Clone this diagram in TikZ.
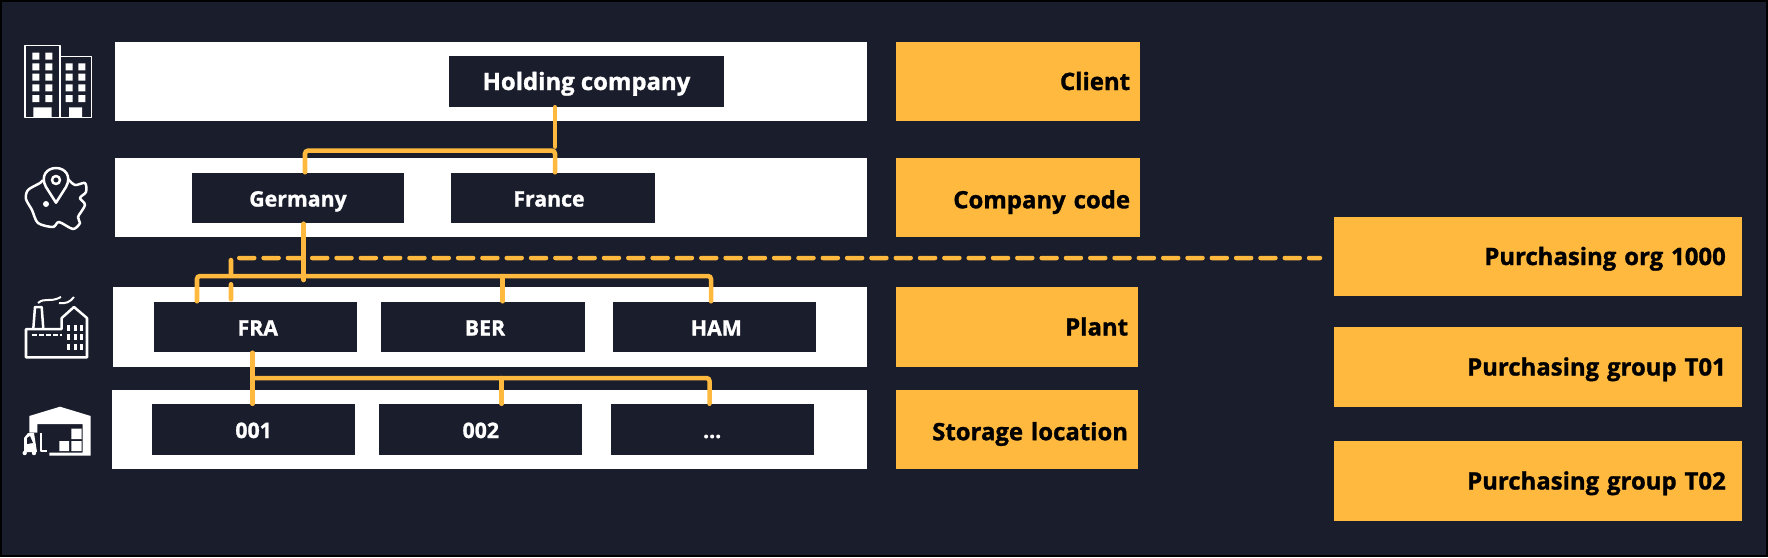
\documentclass[tikz,border=0pt]{standalone}
\usepackage{fontspec}
\setmainfont{Open Sans}[BoldFeatures={FakeBold=1.2}]
\definecolor{fond}{HTML}{1A1D2B}
\definecolor{ambre}{HTML}{FFB93F}
\tikzset{
  bande/.style={fill=white,draw=none,inner sep=0pt,minimum height=.79cm},
  unite/.style={fill=fond,text=white,inner sep=0pt,minimum width=2.03cm,minimum height=.5cm,
    text height=.22cm,text depth=.05cm,font=\fontsize{6.05}{7}\selectfont\bfseries},
  niveau/.style={fill=ambre,text=black,inner sep=0pt,minimum height=.79cm,
    text height=.22cm,text depth=.05cm,align=right,font=\fontsize{6.8}{8}\selectfont\bfseries},
  lien/.style={color=ambre,line width=.045cm,line cap=round},
  tirets/.style={lien,dash pattern=on .15cm off .093cm},
  trait/.style={color=white,line width=.025cm,line join=round}
}
\begin{document}
\begin{tikzpicture}[x=.01cm,y=-.01cm]
    % fond
    \useasboundingbox (0,0) rectangle (1768,557);
    \fill[black] (0,0) rectangle (1768,557);
    \fill[fond] (2,2) rectangle (1766,555);
    % bandes
    \node[bande,minimum width=7.51cm] (clientband) at (491,81.5) {};
    \node[bande,minimum width=7.51cm] (companyband) at (491,197.8) {};
    \node[bande,minimum width=7.53cm] (plantband) at (490,327) {};
    \node[bande,minimum width=7.54cm] (storageband) at (489.7,429.7) {};
    % unites
    \node[unite,minimum width=2.74cm,font=\fontsize{6.8}{8}\selectfont\bfseries] (holding) at (586.5,81.5) {Holding company};
    \node[unite,minimum width=2.12cm] (germany) at (298,198) {Germany};
    \node[unite] (france) at (553,198) {\hspace*{-.08cm}France};
    \node[unite] (fra) at (255.8,327) {\hspace*{.04cm}FRA};
    \node[unite] (ber) at (483,327) {\hspace*{.04cm}BER};
    \node[unite] (ham) at (714.3,327) {\hspace*{.04cm}HAM};
    \node[unite] (sl001) at (253.6,429.5) {001};
    \node[unite] (sl002) at (480.8,429.5) {002};
    \node[unite] (slmore) at (712.2,429.5) {...};
    % niveaux
    \node[niveau,minimum width=2.44cm,text width=2.24cm] (client) at (1018,81.5) {Client};
    \node[niveau,minimum width=2.44cm,text width=2.24cm,text depth=.01cm] (companycode) at (1018,197.8) {Company code};
    \node[niveau,minimum width=2.42cm,text width=2.22cm] (plant) at (1017,327) {Plant};
    \node[niveau,minimum width=2.42cm,text width=2.22cm,text depth=.01cm] (storage) at (1017,429.7) {Storage location};
    \node[niveau,minimum width=4.08cm,text width=3.76cm] (porg) at (1537.7,256.5) {Purchasing org 1000};
    \node[niveau,minimum width=4.08cm,text width=3.76cm] (pgone) at (1537.7,367) {Purchasing group T01};
    \node[niveau,minimum width=4.08cm,text width=3.76cm] (pgtwo) at (1537.7,481) {Purchasing group T02};
    % points de raccord
    \coordinate (A) at (555,150.7);
    \coordinate (B) at (305,150.7);
    \coordinate (C) at (303.7,276);
    \coordinate (D) at (197,276);
    \coordinate (E) at (711,276);
    \coordinate (F) at (231,258);
    \coordinate (G) at (252.5,378);
    \coordinate (H) at (709.5,378);
    \coordinate (I) at (1320,258);
    % liens
    \draw[lien] (holding.south -| A) -- ([yshift=.04cm]A);
    \draw[lien,rounded corners=.03cm] (germany.north -| B) -- (B) -- (A) -- (france.north -| A);
    \draw[lien] (germany.south -| C) -- ([yshift=-.04cm]C);
    \draw[lien,rounded corners=.03cm] (fra.north -| D) -- (D) -- (E) -- (ham.north -| E);
    \draw[lien] (ber.north -| 502.7,276) -- (502.7,276);
    \draw[tirets,rounded corners=.02cm] ([yshift=.02cm]fra.north -| F) -- (F) -- (I);
    \draw[lien] (fra.south -| G) -- (sl001.north -| G);
    \draw[lien,rounded corners=.03cm] (G) -- (H) -- (slmore.north -| H);
    \draw[lien] (sl002.north -| 501.7,378) -- (501.7,378);
    % immeubles
    \draw[trait,line width=.015cm] (25,45.3) rectangle (60,117.7) (60,56.7) rectangle (91.7,117.7);
    \foreach \y in {52.7,63.3,73.7,84.3,95} \fill[white] (32.3,\y) rectangle +(7,7) (45.3,\y) rectangle +(7,7);
    \foreach \y in {63.3,73.7,84.3,95} \fill[white] (65.7,\y) rectangle +(7,7) (78.3,\y) rectangle +(7,7);
    \fill[white] (33.3,107.3) rectangle (51.7,117.7) (69,107.3) rectangle (82,117.7);
    % carte et repere
    \draw[trait] plot[smooth,tension=.5] coordinates {(43,180) (40,183) (28,190) (26,199) (32,210) (38,223) (53,227) (59,222) (73,229) (80,223) (78,217) (85,205) (80,198) (86,192) (85,183) (75,185) (68,179)};
    \draw[trait,fill=fond] (56,202.7) -- (46,187) .. controls (40,176) and (47,168) .. (56,168) .. controls (65,168) and (72,176) .. (66,187) -- cycle;
    \draw[trait] (56,180) circle[radius=4];
    \fill[white] (46,204) circle[radius=3];
    % usine
    \draw[trait] (26,329) -- (26,357.3) -- (87,357.3) -- (87,318) -- (74,307) -- (61.7,318) -- (61.7,329) -- cycle;
    \draw[trait] (33.3,329) -- (35,307) -- (41.7,307) -- (43.3,329);
    \draw[trait,dash pattern=on .05cm off .02cm] (31.7,335) -- (62,335);
    \foreach \x in {67,74,80} \foreach \y in {325,334,344} \fill[white] (\x,\y) rectangle +(3,5.5);
    \draw[trait,line width=.02cm] (38,303) .. controls (45,297) and (50,303) .. (61,297);
    \draw[trait,line width=.02cm] (59,303) .. controls (66,304) and (70,302) .. (74,297);
    % entrepot
    \fill[white] (29.3,416) -- (60,406.7) -- (90.7,416) -- (90.7,455.7) -- (49.3,455.7) -- (49.3,452.7) -- (82.7,452.7) -- (82.7,424) -- (37.3,424) -- (37.3,432.7) -- (29.3,432.7) -- cycle;
    \fill[white] (71.3,428.7) rectangle (81.7,439) (59.3,441) rectangle (69,451) (71.3,441) rectangle (81.7,451);
    \draw[trait,line width=.015cm] (41,433) -- (41,451) -- (47,451);
    \fill[white] (24,452) -- (24,438) -- (28,433) -- (34,433) -- (37,452) -- cycle;
    \fill[fond] (27,444) -- (27,438) -- (30,436) -- (33,443) -- cycle;
    \fill[white] (24.7,453) circle[radius=2.2] (34,453) circle[radius=2.2];
\end{tikzpicture}
\end{document}
